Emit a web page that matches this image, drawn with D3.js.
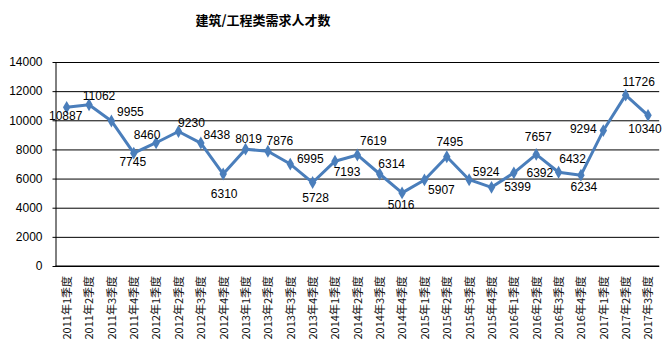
<!DOCTYPE html>
<html><head><meta charset="utf-8">
<script src="https://cdn.jsdelivr.net/npm/d3@7"></script>
<style>body{margin:0;background:#fff}svg{display:block}</style>
</head><body>
<svg id="c" width="671" height="357"></svg>
<script>
const title = "建筑/工程类需求人才数";
const categories = [
  "2011年1季度","2011年2季度","2011年3季度","2011年4季度",
  "2012年1季度","2012年2季度","2012年3季度","2012年4季度",
  "2013年1季度","2013年2季度","2013年3季度","2013年4季度",
  "2014年1季度","2014年2季度","2014年3季度","2014年4季度",
  "2015年1季度","2015年2季度","2015年3季度","2015年4季度",
  "2016年1季度","2016年2季度","2016年3季度","2016年4季度",
  "2017年1季度","2017年2季度","2017年3季度"
];
const values = [10887,11062,9955,7745, 8460,9230,8438,6310, 8019,7876,6995,5728,
  7193,7619,6314,5016, 5907,7495,5924,5399, 6392,7657,6432,6234, 9294,11726,10340];
const yTicks = [0,2000,4000,6000,8000,10000,12000,14000];
// label offsets (dx, dy) from each point, in px
const labelOffsets = [[-1,9],[10,-9],[19,-9],[-1,9],[-9,-8],[13,-9],[16,-8],[1,20],
  [3,-10],[12,-10],[20,-5],[3,15],[12,11],[16,-14],[12,-10],[-1,12],[17,10],[3,-15],
  [17,-8],[26,0],[26,0],[2,-17],[14,-13],[3,12],[-20,-2],[13,-13],[-3,14]];

const svg = d3.select("#c");
const L = 55.5, R = 659.2, T = 62, B = 266;
const x = d3.scalePoint().domain(categories).range([L, R]).padding(0.5);
const y = d3.scaleLinear().domain([0, 14000]).range([B, T]);
const font = "'Liberation Sans', Arial, 'Noto Sans CJK SC', sans-serif";

svg.append("text").attr("x", 263).attr("y", 19).attr("text-anchor","middle")
  .attr("dominant-baseline","central")
  .style("font-family","'Noto Sans CJK SC', sans-serif").style("font-weight","bold")
  .style("font-size","13px").attr("fill","#000").text(title);

// y axis with gridlines
const yAxis = d3.axisLeft(y).tickValues(yTicks).tickFormat(d3.format("d"))
  .tickSize(-(R - L)).tickSizeOuter(0).tickPadding(13);
const gy = svg.append("g").attr("transform", `translate(${L},0)`).call(yAxis);
gy.select(".domain").attr("stroke","#000");
gy.selectAll(".tick line").attr("stroke","#000").attr("x1", -3);
gy.selectAll(".tick text").style("font-family", font).style("font-size","12px").attr("fill","#000");

// x axis
const xAxis = d3.axisBottom(x).tickSize(0).tickSizeOuter(0);
const gx = svg.append("g").attr("transform", `translate(0,${B})`).call(xAxis);
gx.select(".domain").attr("stroke","#000").attr("d", `M${L},0H${R}`);
gx.selectAll(".tick text")
  .style("font-family", "'Noto Sans CJK SC', sans-serif").style("font-size","11px").attr("fill","#111")
  .attr("text-anchor","end").attr("transform","rotate(-90)")
  .attr("x", -10).attr("y", 0).attr("dy","0.35em");

// line
const line = d3.line().x((d,i) => x(categories[i])).y(d => y(d));
svg.append("path").datum(values).attr("d", line).attr("fill","none")
  .attr("stroke","#4a7ebb").attr("stroke-width",3).attr("stroke-linejoin","round");

// markers
const sym = d3.symbol().type(d3.symbolDiamond).size(48);
svg.selectAll(".mk").data(values).join("path").attr("class","mk")
  .attr("d", sym).attr("fill","#4a7ebb")
  .attr("transform",(d,i) => `translate(${x(categories[i])},${y(d)})`);

// data labels
svg.selectAll(".lb").data(values).join("text").attr("class","lb")
  .attr("x",(d,i) => x(categories[i]) + labelOffsets[i][0])
  .attr("y",(d,i) => y(d) + labelOffsets[i][1])
  .attr("text-anchor","middle").attr("dominant-baseline","central")
  .style("font-family", font).style("font-size","12px").attr("fill","#000")
  .text(d => d);
</script>
</body></html>
